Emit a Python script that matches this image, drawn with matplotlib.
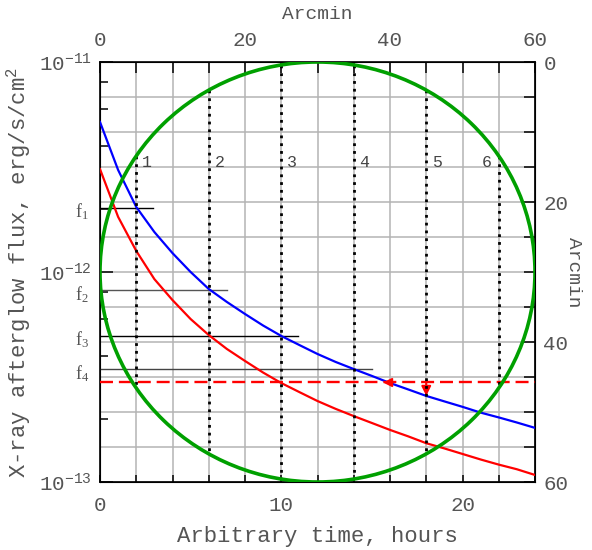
import numpy as np
import matplotlib
matplotlib.use('Agg')
import matplotlib.pyplot as plt
from matplotlib.patches import Circle
from matplotlib.ticker import MultipleLocator, LogLocator, NullFormatter
import matplotlib.transforms as mtrans

plt.rcParams['font.family'] = ['Liberation Mono', 'DejaVu Sans Mono']
plt.rcParams['mathtext.fontset'] = 'custom'
plt.rcParams['mathtext.rm'] = 'Liberation Mono'
plt.rcParams['mathtext.it'] = 'Liberation Mono'
plt.rcParams['mathtext.sf'] = 'Liberation Serif'

# light curves (flux in erg/s/cm^2)
hours = list(range(25))
blue_flux = [5.18e-12, 3.06e-12, 2.04e-12, 1.55e-12, 1.23e-12, 1.00e-12, 8.3e-13,
             7.2e-13, 6.31e-13, 5.56e-13, 4.96e-13, 4.49e-13, 4.07e-13, 3.73e-13,
             3.45e-13, 3.20e-13, 2.96e-13, 2.76e-13, 2.57e-13, 2.42e-13, 2.28e-13,
             2.14e-13, 2.03e-13, 1.92e-13, 1.81e-13]
red_flux = [3.09e-12, 1.83e-12, 1.26e-12, 9.25e-13, 7.35e-13, 5.97e-13, 5.01e-13,
            4.30e-13, 3.77e-13, 3.32e-13, 2.96e-13, 2.68e-13, 2.43e-13, 2.23e-13,
            2.06e-13, 1.91e-13, 1.77e-13, 1.65e-13, 1.53e-13, 1.445e-13, 1.36e-13,
            1.28e-13, 1.21e-13, 1.15e-13, 1.08e-13]
limit_flux = 3.0e-13
cross_time = 15.9
arrow_time = 18

# flux levels f1..f4 and where their marker lines stop (hours)
f_names = ['1', '2', '3', '4']
f_levels = [2.02e-12, 8.2e-13, 4.96e-13, 3.45e-13]
f_ends = [2.9, 7.0, 10.9, 15.0]
f_colors = ['black', '#555555', 'black', '#444444']

# field of view circle and pointings, in arcmin
circle_center = (30, 30)
circle_radius = 30
chord_arcmin = [5, 15, 25, 35, 45, 55]
chord_names = ['1', '2', '3', '4', '5', '6']
chord_label_y = 14.4

TXT = '#555555'
GREEN = '#00a000'

fig = plt.figure(figsize=(5.92, 5.5), dpi=100)
rect = [100 / 592, 1 - 482 / 550, 435 / 592, 420 / 550]
axA = fig.add_axes(rect, zorder=0)
ax = fig.add_axes(rect, zorder=1, facecolor='none')

# arcmin frame: top and right axes, carries the grid
axA.set_xlim(0, 60)
axA.set_ylim(60, 0)
axA.xaxis.tick_top()
axA.yaxis.tick_right()
axA.xaxis.set_label_position('top')
axA.yaxis.set_label_position('right')
for a in (axA.xaxis, axA.yaxis):
    a.set_major_locator(MultipleLocator(20))
    a.set_minor_locator(MultipleLocator(5))
axA.grid(which='both', color='#b4b4b4', lw=1.1)
axA.set_axisbelow(True)
axA.tick_params(which='both', direction='in', length=8, width=1.1,
                labelsize=15, labelcolor=TXT)
axA.tick_params(axis='x', pad=9)
axA.tick_params(axis='y', pad=6)
axA.set_xlabel('Arcmin', color=TXT, fontsize=14, labelpad=8)
axA.set_ylabel('Arcmin', color=TXT, fontsize=14, rotation=270, labelpad=10)

# flux frame
ax.set_xlim(0, 24)
ax.set_yscale('log')
ax.set_ylim(1e-13, 1e-11)
ax.xaxis.set_major_locator(MultipleLocator(10))
ax.xaxis.set_minor_locator(MultipleLocator(2))
ax.yaxis.set_minor_locator(LogLocator(base=10, subs=[2, 4, 6, 8]))
ax.yaxis.set_minor_formatter(NullFormatter())
ax.tick_params(which='both', direction='in', top=False, right=False,
               labelsize=15, labelcolor=TXT, width=1.1)
ax.tick_params(axis='x', which='both', length=5, pad=10)
ax.tick_params(axis='y', which='major', length=9, pad=6)
ax.tick_params(axis='y', which='minor', length=6)
for s in ax.spines.values():
    s.set_linewidth(1.2)
ax.set_xlabel('Arbitrary time, hours', color=TXT, fontsize=16, labelpad=8)
ax.set_ylabel('X-ray afterglow flux, erg/s/cm$^2$', color=TXT, fontsize=16, labelpad=4)

# f-levels
f_trans = ax.get_yaxis_transform() + mtrans.ScaledTranslation(0, -3 / 72, fig.dpi_scale_trans)
for name, lvl, end, col in zip(f_names, f_levels, f_ends, f_colors):
    ax.plot([0, end], [lvl, lvl], color=col, lw=1.0, zorder=2)
    ax.text(-0.025, lvl, r'$\mathsf{f_%s}$' % name, transform=f_trans,
            ha='right', va='center', fontsize=13, color=TXT)

# curves
ax.plot(hours, blue_flux, color='#0000ff', lw=1.6, zorder=3)
ax.plot(hours, red_flux, color='#ff0000', lw=1.6, zorder=3)
ax.axhline(limit_flux, color='#ff0000', lw=1.7, dashes=(5.5, 2.5), zorder=3)
ax.plot(cross_time, limit_flux, marker='<', color='#ff0000', ms=6, zorder=3)
ax.annotate('', xy=(arrow_time, blue_flux[hours.index(arrow_time)]),
            xytext=(arrow_time, limit_flux),
            arrowprops=dict(arrowstyle='-|>', color='#ff0000', lw=1.5,
                            mutation_scale=14, shrinkA=0, shrinkB=0), zorder=4)

# pointings inside the circle
cx, cy = circle_center
for i, (c, name) in enumerate(zip(chord_arcmin, chord_names)):
    h = np.sqrt(circle_radius ** 2 - (c - cx) ** 2)
    ax.plot([c, c], [cy - h, cy + h], transform=axA.transData, color='black',
            lw=2.0, dashes=(1, 1.8), zorder=4)
    if i == len(chord_arcmin) - 1:
        ax.text(c - 1.0, chord_label_y, name, transform=axA.transData, ha='right',
                va='center', fontsize=12, color='#444444')
    else:
        ax.text(c + 0.8, chord_label_y, name, transform=axA.transData, ha='left',
                va='center', fontsize=12, color='#444444')

ax.add_patch(Circle(circle_center, circle_radius, transform=axA.transData,
                    fill=False, ec=GREEN, lw=2.6, zorder=5))

fig.savefig('out.png', dpi=100)
